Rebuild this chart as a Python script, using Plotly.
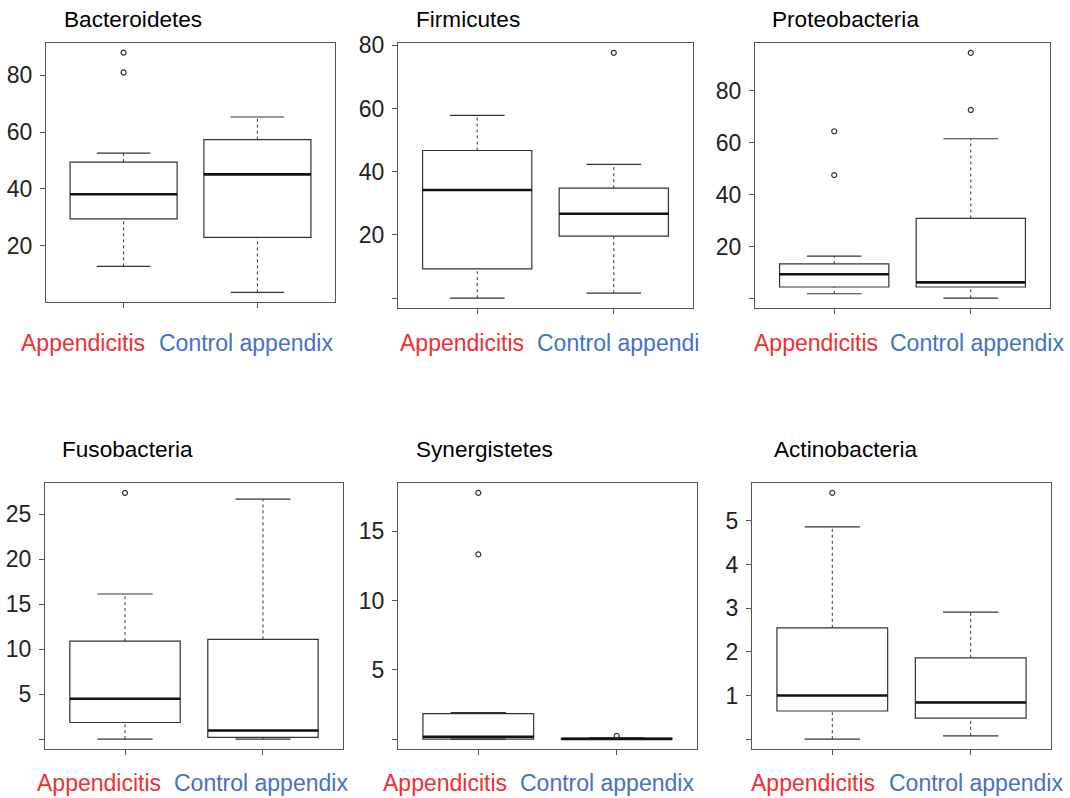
import plotly.graph_objects as go

# ---------------- data ----------------
panel_titles = ["Bacteroidetes", "Firmicutes", "Proteobacteria",
                "Fusobacteria", "Synergistetes", "Actinobacteria"]
group_positions = [1, 2]
group_labels = [
    ["Appendicitis", "Control appendix"],
    ["Appendicitis", "Control appendi"],
    ["Appendicitis", "Control appendix"],
    ["Appendicitis", "Control appendix"],
    ["Appendicitis", "Control appendix"],
    ["Appendicitis", "Control appendix"],
]
lower_whisker = [[12.7, 3.5], [0.0, 1.6], [1.9, 0.2], [0.0, 0.0], [0.0, 0.0], [0.0, 0.076]]
q1_values = [[29.4, 22.9], [9.3, 19.6], [4.5, 4.5], [1.85, 0.19], [0.0, 0.0], [0.645, 0.48]]
median_values = [[38.1, 45.1], [34.2, 26.7], [9.4, 6.3], [4.5, 0.96], [0.17, 0.02], [1.0, 0.84]]
q3_values = [[49.4, 57.3], [46.7, 34.8], [13.4, 30.9], [10.9, 11.1], [1.84, 0.05], [2.55, 1.86]]
upper_whisker = [[52.6, 65.3], [57.8, 42.3], [16.4, 61.6], [16.15, 26.7], [1.91, 0.1], [4.86, 2.91]]
outliers = [
    [[88.0, 81.0], []],
    [[], [77.6]],
    [[64.5, 47.6], [94.7, 72.7]],
    [[27.4], []],
    [[17.76, 13.32], [0.24]],
    [[5.64], []],
]
y_tick_values = [
    [0, 20, 40, 60, 80],
    [0, 20, 40, 60, 80],
    [0, 20, 40, 60, 80],
    [0, 5, 10, 15, 20, 25],
    [0, 5, 10, 15],
    [0, 1, 2, 3, 4, 5],
]

# ---------------- layout constants ----------------
W, H = 1070, 798
# plot frames in pixels (x0, x1, y0, y1) with y measured from top
frames = [
    (46, 335, 43, 302),
    (398, 693, 43, 308),
    (755, 1050, 43, 308),
    (45, 343, 483, 749),
    (398, 697, 483, 749),
    (752, 1051, 483, 749),
]
title_pos = [(62, 19), (414, 19), (770, 19), (60, 449), (414, 449), (772, 449)]
label_pos = [
    [(19, 343), (157, 343)],
    [(398, 343), (535, 343)],
    [(752, 343), (888, 343)],
    [(35, 783), (172, 783)],
    [(381, 783), (518, 783)],
    [(749, 783), (887, 783)],
]
label_colors = ["#EE3030", "#4472C4"]
FONT = "Arial, Liberation Sans, sans-serif"
BOX_HALF = 0.4
STAPLE_HALF = 0.2
LINE_COLOR = "#333333"

fig = go.Figure()
layout_updates = {}
annotations = []

for p in range(6):
    ax = "" if p == 0 else str(p + 1)
    xref, yref = "x" + ax, "y" + ax
    for g in range(2):
        xpos = group_positions[g]
        lw, q1, med, q3, uw = (lower_whisker[p][g], q1_values[p][g], median_values[p][g],
                               q3_values[p][g], upper_whisker[p][g])
        # dashed whiskers
        for a, b in ((q3, uw), (lw, q1)):
            fig.add_trace(go.Scatter(x=[xpos, xpos], y=[a, b], mode="lines",
                                     line=dict(color=LINE_COLOR, width=1, dash="3px,3px"),
                                     xaxis=xref, yaxis=yref, showlegend=False, hoverinfo="skip"))
        # staples
        for v in (uw, lw):
            fig.add_trace(go.Scatter(x=[xpos - STAPLE_HALF, xpos + STAPLE_HALF], y=[v, v],
                                     mode="lines", line=dict(color=LINE_COLOR, width=1.2),
                                     xaxis=xref, yaxis=yref, showlegend=False, hoverinfo="skip"))
        # box
        fig.add_trace(go.Box(x=[xpos], q1=[q1], median=[med], q3=[q3],
                             lowerfence=[q1], upperfence=[q3],
                             width=2 * BOX_HALF, whiskerwidth=0,
                             fillcolor="white", line=dict(color=LINE_COLOR, width=1.2),
                             boxpoints=False, xaxis=xref, yaxis=yref,
                             showlegend=False, hoverinfo="skip"))
        # thick median
        fig.add_trace(go.Scatter(x=[xpos - BOX_HALF, xpos + BOX_HALF], y=[med, med],
                                 mode="lines", line=dict(color="#111111", width=2.6),
                                 xaxis=xref, yaxis=yref, showlegend=False, hoverinfo="skip"))
        # outliers
        if outliers[p][g]:
            fig.add_trace(go.Scatter(x=[xpos] * len(outliers[p][g]), y=outliers[p][g],
                                     mode="markers",
                                     marker=dict(symbol="circle-open", size=5,
                                                 color=LINE_COLOR, line=dict(width=1.2)),
                                     xaxis=xref, yaxis=yref, showlegend=False, hoverinfo="skip"))

    # axis ranges following R's 4% extension
    allv = (lower_whisker[p] + upper_whisker[p] + outliers[p][0] + outliers[p][1])
    lo, hi = min(allv), max(allv)
    pad = 0.04 * (hi - lo)
    x0, x1, y0, y1 = frames[p]
    layout_updates["xaxis" + ax] = dict(
        domain=[x0 / W, x1 / W], anchor=yref, range=[0.42, 2.58],
        tickvals=group_positions, ticktext=["", ""], ticks="outside", ticklen=5,
        tickcolor="#555555", showline=True, mirror=True, linecolor="#555555", linewidth=1.2,
        showgrid=False, zeroline=False, fixedrange=True, automargin=False)
    layout_updates["yaxis" + ax] = dict(
        domain=[1 - y1 / H, 1 - y0 / H], anchor=xref, range=[lo - pad, hi + pad],
        tickvals=y_tick_values[p],
        ticktext=["" if v == 0 else str(v) for v in y_tick_values[p]],
        ticks="outside", ticklen=5, tickcolor="#555555",
        tickfont=dict(family=FONT, size=23, color="#222222"),
        showline=True, mirror=True, linecolor="#555555", linewidth=1.2,
        showgrid=False, zeroline=False, fixedrange=True, ticklabelstandoff=3,
        automargin=False)

    tx, ty = title_pos[p]
    annotations.append(dict(text=panel_titles[p], x=tx / W, y=1 - ty / H, xref="paper",
                            yref="paper", xanchor="left", yanchor="middle", showarrow=False,
                            font=dict(family=FONT, size=22.6, color="black")))
    for g in range(2):
        lx, ly = label_pos[p][g]
        annotations.append(dict(text=group_labels[p][g], x=lx / W, y=1 - ly / H,
                                xref="paper", yref="paper", xanchor="left", yanchor="middle",
                                showarrow=False,
                                font=dict(family=FONT, size=23, color=label_colors[g])))

fig.update_layout(template="none", width=W, height=H, margin=dict(l=0, r=0, t=0, b=0, pad=0),
                  paper_bgcolor="white", plot_bgcolor="white", showlegend=False,
                  annotations=annotations, **layout_updates)
fig.write_html("out.html", config={"displayModeBar": False},
               post_script="document.body.style.margin='0';document.body.style.overflow='hidden';")
